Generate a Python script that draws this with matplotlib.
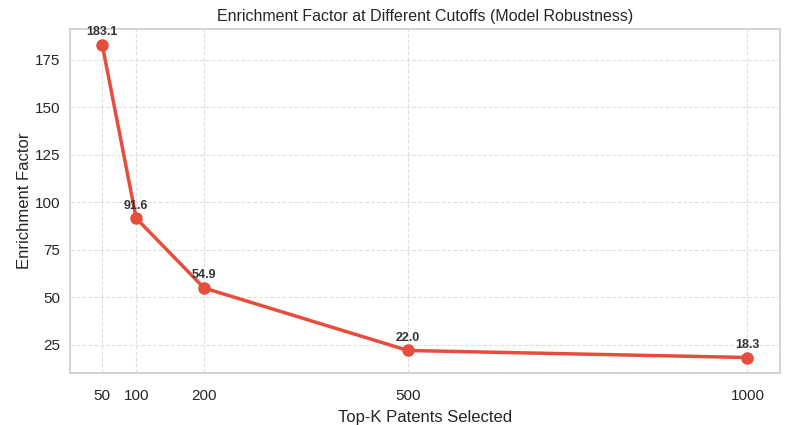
import matplotlib
matplotlib.use("Agg")
import matplotlib.pyplot as plt
import seaborn as sns

# Daten
top_k = [50, 100, 200, 500, 1000]
enrichment = [183.1, 91.6, 54.9, 22.0, 18.3]

sns.set_style("whitegrid")
plt.rcParams["font.family"] = ["Liberation Sans", "DejaVu Sans"]

fig, ax = plt.subplots(figsize=(7.86, 4.25), dpi=100)
ax.plot(top_k, enrichment, marker="o", color="#e74c3c", linewidth=2.5, markersize=8)

for x, y in zip(top_k, enrichment):
    ax.annotate(f"{y:.1f}", (x, y), textcoords="offset points", xytext=(0, 7),
                ha="center", fontsize=9, fontweight="bold", color="#333333")

ax.set_xticks(top_k)
ax.set_xlabel("Top-K Patents Selected", fontsize=12, labelpad=5)
ax.set_ylabel("Enrichment Factor", fontsize=12, labelpad=2)
ax.set_title("Enrichment Factor at Different Cutoffs (Model Robustness)", fontsize=11.5)
ax.tick_params(labelsize=11)
ax.tick_params(axis="x", pad=8)
ax.grid(True, linestyle="--", alpha=0.6)
for s in ax.spines.values():
    s.set_color("#cccccc")
    s.set_linewidth(1.2)

fig.subplots_adjust(left=0.089, right=0.992, top=0.932, bottom=0.122)
fig.savefig("out.png")
